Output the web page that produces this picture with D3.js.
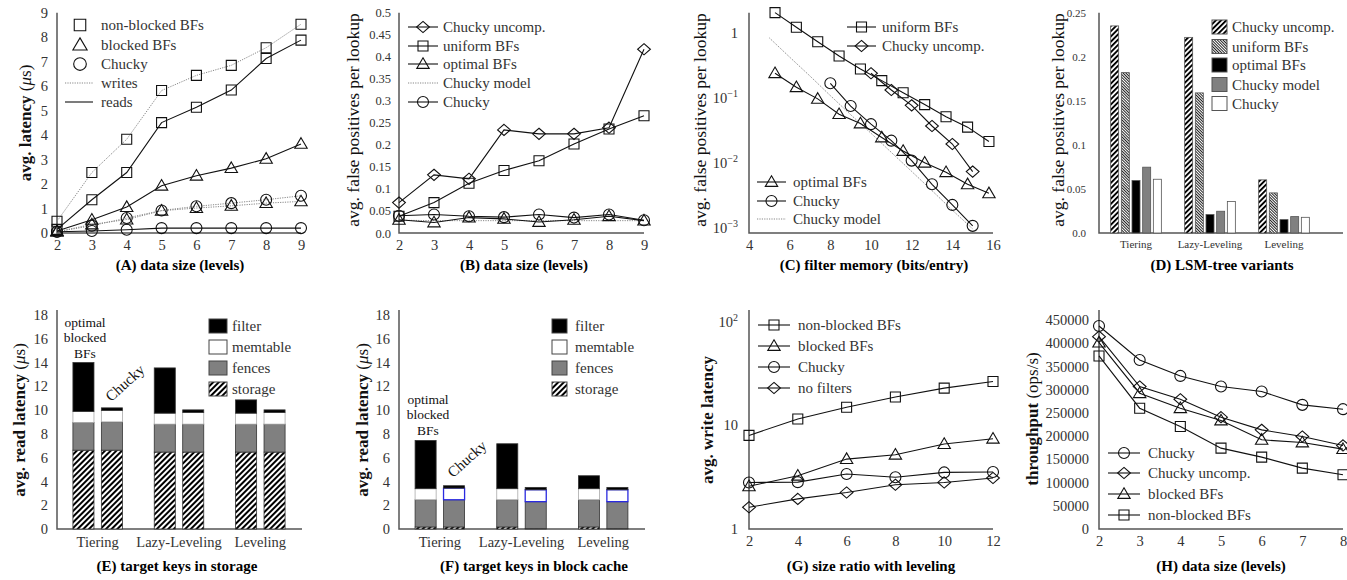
<!DOCTYPE html>
<html>
<head>
<meta charset="utf-8">
<script src="https://cdn.jsdelivr.net/npm/d3@7"></script>
<style>
  body { margin: 0; background: #fff; }
  svg text { font-family: "Liberation Serif", "DejaVu Serif", serif; }
</style>
</head>
<body>
<div id="chart"></div>
<script>
// ---- data ----
// (A) latency vs data size
const levelsA = [2, 3, 4, 5, 6, 7, 8, 9];
const aNonBlockedWrites = [0.48, 2.47, 3.83, 5.82, 6.44, 6.85, 7.57, 8.53];
const aNonBlockedReads = [0.15, 1.36, 2.47, 4.51, 5.14, 5.84, 7.13, 7.88];
const aBlockedWrites = [0.05, 0.35, 0.55, 0.91, 1.02, 1.11, 1.22, 1.29];
const aBlockedReads = [0.08, 0.54, 1.06, 1.93, 2.34, 2.65, 3.03, 3.64];
const aChuckyWrites = [0.05, 0.3, 0.61, 0.92, 1.09, 1.22, 1.36, 1.52];
const aChuckyReads = [0.05, 0.08, 0.13, 0.2, 0.2, 0.2, 0.2, 0.2];

// (B) false positives vs data size
const bUncomp = [0.069, 0.132, 0.123, 0.234, 0.225, 0.225, 0.239, 0.417];
const bUniform = [0.038, 0.069, 0.113, 0.142, 0.164, 0.202, 0.236, 0.266];
const bOptimal = [0.03, 0.024, 0.035, 0.032, 0.025, 0.03, 0.038, 0.028];
const bModel = [0.029, 0.028, 0.028, 0.028, 0.028, 0.028, 0.028, 0.028];
const bChucky = [0.039, 0.042, 0.038, 0.036, 0.042, 0.035, 0.042, 0.029];

// (C) false positives vs filter memory
const cBits = [5.28, 6.33, 7.38, 8.43, 9.48, 10.53, 11.58, 12.64, 13.69, 14.75, 15.8];
const cUniform = [2.08, 1.24, 0.74, 0.448, 0.283, 0.187, 0.122, 0.08, 0.052, 0.036, 0.0216];
const cOptimal = [0.243, 0.148, 0.098, 0.057, 0.041, 0.025, 0.0155, 0.0102, 0.0073, 0.00475, 0.00345];
const cUncompBits = [10, 11, 12, 13, 14, 15];
const cUncomp = [0.243, 0.134, 0.078, 0.0375, 0.0198, 0.00745];
const cChuckyBits = [8, 9, 10, 11, 12, 13, 14, 15];
const cChucky = [0.17, 0.076, 0.04, 0.0223, 0.011, 0.00475, 0.00229, 0.00109];
const cModelBits = [5, 6, 7, 8, 9, 10, 11, 12, 13, 14, 15];
const cModel = [0.85, 0.43, 0.22, 0.11, 0.056, 0.029, 0.0147, 0.0075, 0.0038, 0.0019, 0.00098];

// (D) LSM-tree variants
const variants = ['Tiering', 'Lazy-Leveling', 'Leveling'];
const dSeries = ['Chucky uncomp.', 'uniform BFs', 'optimal BFs', 'Chucky model', 'Chucky'];
const dUncomp = [0.235, 0.222, 0.0603];
const dUniform = [0.182, 0.159, 0.0455];
const dOptimal = [0.0596, 0.0209, 0.0152];
const dModel = [0.0747, 0.0247, 0.0186];
const dChucky = [0.061, 0.0357, 0.0178];

// (E)/(F) read latency breakdown, one entry per bar
const barVariant = ['Tiering', 'Tiering', 'Lazy-Leveling', 'Lazy-Leveling', 'Leveling', 'Leveling'];
const barConfig = ['optimal', 'Chucky', 'optimal', 'Chucky', 'optimal', 'Chucky'];
const components = ['storage', 'fences', 'memtable', 'filter'];
const eStorage = [6.63, 6.63, 6.47, 6.47, 6.47, 6.47];
const eFences = [2.33, 2.38, 2.35, 2.35, 2.35, 2.35];
const eMemtable = [0.92, 0.96, 0.92, 0.98, 0.92, 0.98];
const eFilter = [4.12, 0.22, 3.81, 0.22, 1.12, 0.22];
const fStorage = [0.17, 0.17, 0.17, 0.03, 0.17, 0.03];
const fFences = [2.29, 2.29, 2.29, 2.27, 2.29, 2.27];
const fMemtable = [0.93, 0.98, 0.93, 1.0, 0.93, 1.0];
const fFilter = [4.06, 0.2, 3.78, 0.2, 1.09, 0.2];

// (G) write latency vs size ratio
const ratios = [2, 4, 6, 8, 10, 12];
const gNonBlocked = [7.98, 11.5, 14.9, 18.7, 22.8, 26.4];
const gBlocked = [2.58, 3.26, 4.72, 5.2, 6.59, 7.41];
const gChucky = [2.81, 2.83, 3.39, 3.15, 3.51, 3.54];
const gNoFilters = [1.62, 1.95, 2.25, 2.67, 2.81, 3.1];

// (H) throughput vs data size
const levelsH = [2, 3, 4, 5, 6, 7, 8];
const hChucky = [437000, 364000, 329600, 306700, 296000, 267300, 258000];
const hUncomp = [414200, 306700, 279400, 240800, 213500, 199200, 179900];
const hBlocked = [401300, 292400, 260100, 233600, 192000, 186300, 172000];
const hNonBlocked = [372600, 260100, 220700, 174100, 154800, 131100, 116800];

// ---- drawing ----
const svg = d3.select('#chart').append('svg')
    .attr('width', 1347)
    .attr('height', 580);
const defs = svg.append('defs');

function stripes(id, size, bar, angle, color) {
    const p = defs.append('pattern')
        .attr('id', id)
        .attr('patternUnits', 'userSpaceOnUse')
        .attr('width', size)
        .attr('height', size)
        .attr('patternTransform', `rotate(${angle})`);
    p.append('rect').attr('width', size).attr('height', size).attr('fill', '#fff');
    p.append('rect').attr('width', bar).attr('height', size).attr('fill', color);
}
stripes('thick', 3.7, 1.9, 45, '#000');
stripes('fine', 2, 1, -45, '#222');
stripes('storage', 4, 2, 45, '#000');

const FONT = '"Liberation Serif", "DejaVu Serif", serif';
const TOP_Y = 233, BOT_Y = 529;

function frame(x0, x1, yTop, yBottom) {
    svg.append('path')
        .attr('d', `M${x0},${yTop}V${yBottom}H${x1}`)
        .attr('fill', 'none')
        .attr('stroke', '#555')
        .attr('stroke-width', 1.5);
}

function styleAxis(a, size) {
    a.select('.domain').remove();
    a.attr('font-family', FONT).attr('font-size', size || 14.5).attr('color', '#333');
}

function yAxis(x0, y, ticks, fmt, pad, size) {
    svg.append('g')
        .attr('transform', `translate(${x0},0)`)
        .call(d3.axisLeft(y).tickValues(ticks).tickFormat(fmt).tickSize(0).tickPadding(pad || 9))
        .call(a => styleAxis(a, size));
}

function logAxis(x0, y, ticks, pad) {
    svg.append('g')
        .attr('transform', `translate(${x0},0)`)
        .call(d3.axisLeft(y).tickValues(ticks).tickFormat('').tickSize(0).tickPadding(pad))
        .call(a => styleAxis(a))
        .selectAll('text')
        .each(function(d) {
            const e = Math.round(Math.log10(d));
            const t = d3.select(this);
            if (e === 0) { t.text('1'); return; }
            if (e === 1) { t.text('10'); return; }
            t.append('tspan').text('10');
            t.append('tspan').attr('dy', -6).attr('font-size', 10)
                .text(e < 0 ? '\u2212' + (-e) : String(e));
        });
}

function xAxis(yPos, x, ticks) {
    const ax = d3.axisBottom(x).tickSize(0).tickPadding(7);
    if (ticks) ax.tickValues(ticks).tickFormat(d3.format('d'));
    svg.append('g')
        .attr('transform', `translate(0,${yPos})`)
        .call(ax)
        .call(a => styleAxis(a));
}

function yLabel(cx, cy, parts, size) {
    const t = svg.append('text')
        .attr('transform', `translate(${cx},${cy}) rotate(-90)`)
        .attr('text-anchor', 'middle')
        .attr('dominant-baseline', 'central')
        .attr('font-size', size || 17)
        .attr('fill', '#111');
    parts.forEach(p => {
        t.append('tspan')
            .attr('font-weight', p.bold ? 'bold' : 'normal')
            .attr('font-style', p.italic ? 'italic' : 'normal')
            .text(p.text);
    });
}

function title(cx, cy, txt) {
    svg.append('text')
        .attr('x', cx).attr('y', cy)
        .attr('text-anchor', 'middle')
        .attr('dominant-baseline', 'central')
        .attr('font-size', 15)
        .attr('font-weight', 'bold')
        .attr('fill', '#000')
        .text(txt);
}

const shapePaths = {
    square: 'M-5,-5H5V5H-5Z',
    triangle: 'M0,-6.2L6.2,4.4H-6.2Z',
    diamond: 'M0,-5.6L6.4,0L0,5.6L-6.4,0Z'
};

function marker(cx, cy, shape, scale) {
    const k = scale || 1;
    if (shape === 'circle') {
        svg.append('circle').attr('cx', cx).attr('cy', cy).attr('r', 5.5 * k)
            .attr('fill', 'none').attr('stroke', '#111').attr('stroke-width', 1.1);
    } else {
        svg.append('path').attr('d', shapePaths[shape])
            .attr('transform', `translate(${cx},${cy}) scale(${k})`)
            .attr('fill', 'none').attr('stroke', '#111').attr('stroke-width', 1.1 / k);
    }
}

function series(x, y, xs, ys, shape, dotted) {
    const pts = xs.map((v, i) => [x(v), y(ys[i])]);
    svg.append('path')
        .attr('d', d3.line()(pts))
        .attr('fill', 'none')
        .attr('stroke', dotted ? '#888' : '#111')
        .attr('stroke-width', dotted ? 1 : 1.1)
        .attr('stroke-dasharray', dotted ? '1.2,1.2' : null);
    if (shape) pts.forEach(p => marker(p[0], p[1], shape));
}

function legendText(x, y, txt) {
    svg.append('text')
        .attr('x', x).attr('y', y)
        .attr('dominant-baseline', 'central')
        .attr('font-size', 15)
        .attr('fill', '#333')
        .text(txt);
}

// line + marker legend entry
function legendLine(x0, x1, y, shape, dotted, label, textX, scale) {
    if (x1 > x0) {
        svg.append('line')
            .attr('x1', x0).attr('x2', x1).attr('y1', y).attr('y2', y)
            .attr('stroke', dotted ? '#888' : '#111')
            .attr('stroke-width', 1.1)
            .attr('stroke-dasharray', dotted ? '1.2,1.2' : null);
    }
    if (shape) marker((x0 + x1) / 2, y, shape, scale);
    legendText(textX, y, label);
}

function legendSwatch(x, w, y, fill, stroke, label, textX) {
    svg.append('rect')
        .attr('x', x).attr('y', y - 7).attr('width', w).attr('height', 14)
        .attr('fill', fill).attr('stroke', stroke).attr('stroke-width', 1);
    legendText(textX, y, label);
}

// ===== (A) =====
{
    const x = d3.scaleLinear().domain([2, 9]).range([57, 301]);
    const y = d3.scaleLinear().domain([0, 9]).range([TOP_Y, 12.7]);
    frame(57, 301, 12.7, TOP_Y);
    yAxis(57, y, d3.range(0, 10), d3.format('d'));
    xAxis(TOP_Y, x, levelsA);
    series(x, y, levelsA, aNonBlockedWrites, 'square', true);
    series(x, y, levelsA, aBlockedWrites, 'triangle', true);
    series(x, y, levelsA, aChuckyWrites, 'circle', true);
    series(x, y, levelsA, aNonBlockedReads, 'square', false);
    series(x, y, levelsA, aBlockedReads, 'triangle', false);
    series(x, y, levelsA, aChuckyReads, 'circle', false);
    legendLine(80, 80, 25, 'square', false, 'non-blocked BFs', 101, 1.15);
    legendLine(80, 80, 45, 'triangle', false, 'blocked BFs', 101, 1.15);
    legendLine(80, 80, 64, 'circle', false, 'Chucky', 101, 1.15);
    legendLine(65, 93, 83, null, true, 'writes', 101);
    legendLine(65, 93, 102, null, false, 'reads', 101);
    yLabel(25, 123, [{ text: 'avg. latency ', bold: true }, { text: '(' }, { text: '\u03bc', italic: true }, { text: 's)' }]);
    title(180, 265, '(A) data size (levels)');
}

// ===== (B) =====
{
    const x = d3.scaleLinear().domain([2, 9]).range([399, 644]);
    const y = d3.scaleLinear().domain([0, 0.5]).range([TOP_Y, 12.7]);
    frame(399, 644, 12.7, TOP_Y);
    yAxis(399, y, d3.range(0, 11).map(i => i * 0.05), d => d === 0 ? '0.0' : String(+d.toFixed(2)), 8, 12.5);
    xAxis(TOP_Y, x, levelsA);
    series(x, y, levelsA, bModel, null, true);
    series(x, y, levelsA, bUncomp, 'diamond');
    series(x, y, levelsA, bUniform, 'square');
    series(x, y, levelsA, bOptimal, 'triangle');
    series(x, y, levelsA, bChucky, 'circle');
    legendLine(408, 438, 27, 'diamond', false, 'Chucky uncomp.', 443);
    legendLine(408, 438, 46, 'square', false, 'uniform BFs', 443);
    legendLine(408, 438, 64, 'triangle', false, 'optimal BFs', 443);
    legendLine(408, 438, 83, null, true, 'Chucky model', 443);
    legendLine(408, 438, 102, 'circle', false, 'Chucky', 443);
    yLabel(353, 120, [{ text: 'avg. false positives per lookup' }], 17.5);
    title(524, 265, '(B) data size (levels)');
}

// ===== (C) =====
{
    const x = d3.scaleLinear().domain([4, 16]).range([749, 993]);
    const y = d3.scaleLog().domain([1e-3, 1]).range([228.3, 33.3]);
    frame(749, 993, 12.7, TOP_Y);
    logAxis(749, y, [1, 0.1, 0.01, 0.001], 11);
    xAxis(TOP_Y, x, d3.range(4, 17, 2));
    series(x, y, cModelBits, cModel, null, true);
    series(x, y, cBits, cUniform, 'square');
    series(x, y, cUncompBits, cUncomp, 'diamond');
    series(x, y, cBits, cOptimal, 'triangle');
    series(x, y, cChuckyBits, cChucky, 'circle');
    legendLine(847, 876, 27, 'square', false, 'uniform BFs', 882);
    legendLine(847, 876, 46, 'diamond', false, 'Chucky uncomp.', 882);
    legendLine(757, 786, 182, 'triangle', false, 'optimal BFs', 793);
    legendLine(757, 786, 201, 'circle', false, 'Chucky', 793);
    legendLine(757, 786, 219, null, true, 'Chucky model', 793);
    yLabel(700, 120, [{ text: 'avg. false positives per lookup' }], 17.5);
    title(874, 265, '(C) filter memory (bits/entry)');
}

// ===== (D) =====
{
    const x = d3.scaleBand().domain(variants).range([1099, 1321]);
    const inner = d3.scaleBand().domain(dSeries).range([0, 50.7]).paddingInner(0.25);
    const y = d3.scaleLinear().domain([0, 0.25]).range([TOP_Y, 12.7]);
    const dValues = [dUncomp, dUniform, dOptimal, dModel, dChucky];
    const dFills = ['url(#thick)', 'url(#fine)', '#000', '#808080', '#fff'];
    frame(1099, 1343, 12.7, TOP_Y);
    yAxis(1099, y, d3.range(0, 6).map(i => i * 0.05), d => d === 0 ? '0.0' : String(+d.toFixed(2)), 13, 11);
    svg.append('g')
        .attr('transform', `translate(0,${TOP_Y})`)
        .call(d3.axisBottom(x).tickSize(0).tickPadding(7))
        .call(a => styleAxis(a, 11));
    dSeries.forEach((s, si) => {
        variants.forEach((v, vi) => {
            const val = dValues[si][vi];
            svg.append('rect')
                .attr('x', x(v) + x.bandwidth() / 2 - 25.35 + inner(s))
                .attr('y', y(val))
                .attr('width', inner.bandwidth())
                .attr('height', y(0) - y(val))
                .attr('fill', dFills[si])
                .attr('stroke', '#555')
                .attr('stroke-width', 0.8);
        });
        legendSwatch(1212, 15, [27, 46.5, 65, 84.5, 103.5][si], dFills[si], '#555', s, 1232);
    });
    yLabel(1058, 120, [{ text: 'avg. false positives per lookup' }], 17.5);
    title(1222, 265, '(D) LSM-tree variants');
}

// ===== (E) / (F) stacked bars =====
const compFill = { storage: 'url(#storage)', fences: '#808080', memtable: '#fff', filter: '#000' };
const compStroke = { storage: '#333', fences: '#333', memtable: '#aaa', filter: '#333' };
const legendOrder = ['filter', 'memtable', 'fences', 'storage'];

function stackedPanel(x0, x1, vals, swatchX, swatchW, textX, blueMem) {
    const rows = barVariant.map((v, i) => ({
        variant: v, config: barConfig[i],
        storage: vals[0][i], fences: vals[1][i], memtable: vals[2][i], filter: vals[3][i]
    }));
    const stacked = d3.stack().keys(components)(rows);
    const x = d3.scaleBand().domain(variants).range([x0, x1]);
    const inner = d3.scaleBand().domain(['optimal', 'Chucky']).range([0, 49.5]).paddingInner(0.26);
    const y = d3.scaleLinear().domain([0, 18]).range([BOT_Y, 315]);
    frame(x0, x1 + 1, 310, BOT_Y);
    yAxis(x0, y, d3.range(0, 19, 2), d3.format('d'));
    svg.append('g')
        .attr('transform', `translate(0,${BOT_Y})`)
        .call(d3.axisBottom(x).tickSize(0).tickPadding(8))
        .call(a => styleAxis(a));
    stacked.forEach(layer => {
        layer.forEach(seg => {
            const r = seg.data;
            const blue = blueMem && layer.key === 'memtable' && r.config === 'Chucky';
            svg.append('rect')
                .attr('x', x(r.variant) + x.bandwidth() / 2 - 24.75 + inner(r.config))
                .attr('y', y(seg[1]))
                .attr('width', inner.bandwidth())
                .attr('height', Math.max(0, y(seg[0]) - y(seg[1])))
                .attr('fill', compFill[layer.key])
                .attr('stroke', blue ? '#2a2ae0' : compStroke[layer.key])
                .attr('stroke-width', blue ? 1.3 : 0.8);
        });
    });
    legendOrder.forEach((k, i) => {
        legendSwatch(swatchX, swatchW, 326 + i * 21, compFill[k], '#444', k, textX);
    });
    return x;
}

function annotate(cx, yTop, chuckyX, chuckyY) {
    ['optimal', 'blocked', 'BFs'].forEach((t, i) => {
        svg.append('text')
            .attr('x', cx).attr('y', yTop + i * 15.5)
            .attr('text-anchor', 'middle')
            .attr('dominant-baseline', 'central')
            .attr('font-size', 13.5)
            .attr('fill', '#111')
            .text(t);
    });
    svg.append('text')
        .attr('transform', `translate(${chuckyX},${chuckyY}) rotate(-42)`)
        .attr('text-anchor', 'middle')
        .attr('dominant-baseline', 'central')
        .attr('font-size', 15)
        .attr('fill', '#111')
        .text('Chucky');
}

stackedPanel(57, 301, [eStorage, eFences, eMemtable, eFilter], 209, 18, 232, false);
annotate(85, 322, 125, 383);
yLabel(19, 420, [{ text: 'avg. read latency ', bold: true }, { text: '(' }, { text: '\u03bc', italic: true }, { text: 's)' }]);
title(177, 566, '(E) target keys in storage');

stackedPanel(399, 644, [fStorage, fFences, fMemtable, fFilter], 552, 15, 575, true);
annotate(428, 399, 467, 459);
yLabel(362, 420, [{ text: 'avg. read latency ', bold: true }, { text: '(' }, { text: '\u03bc', italic: true }, { text: 's)' }]);
title(534, 566, '(F) target keys in block cache');

// ===== (G) =====
{
    const x = d3.scaleLinear().domain([2, 12]).range([749, 993]);
    const y = d3.scaleLog().domain([1, 100]).range([BOT_Y, 321.5]);
    frame(749, 993, 310, BOT_Y);
    logAxis(749, y, [1, 10, 100], 11);
    xAxis(BOT_Y, x, ratios);
    series(x, y, ratios, gNonBlocked, 'square');
    series(x, y, ratios, gBlocked, 'triangle');
    series(x, y, ratios, gChucky, 'circle');
    series(x, y, ratios, gNoFilters, 'diamond');
    legendLine(758, 790, 325, 'square', false, 'non-blocked BFs', 798);
    legendLine(758, 790, 346, 'triangle', false, 'blocked BFs', 798);
    legendLine(758, 790, 367, 'circle', false, 'Chucky', 798);
    legendLine(758, 790, 388, 'diamond', false, 'no filters', 798);
    yLabel(707, 420, [{ text: 'avg. write latency', bold: true }]);
    title(871, 566, '(G) size ratio with leveling');
}

// ===== (H) =====
{
    const x = d3.scaleLinear().domain([2, 8]).range([1099, 1343]);
    const y = d3.scaleLinear().domain([0, 450000]).range([BOT_Y, 320]);
    frame(1099, 1343, 310, BOT_Y);
    yAxis(1099, y, d3.range(0, 450001, 50000), d3.format('d'), 10);
    xAxis(BOT_Y, x, levelsH);
    series(x, y, levelsH, hChucky, 'circle');
    series(x, y, levelsH, hUncomp, 'diamond');
    series(x, y, levelsH, hBlocked, 'triangle');
    series(x, y, levelsH, hNonBlocked, 'square');
    legendLine(1108, 1140, 453, 'circle', false, 'Chucky', 1148);
    legendLine(1108, 1140, 473, 'diamond', false, 'Chucky uncomp.', 1148);
    legendLine(1108, 1140, 494, 'triangle', false, 'blocked BFs', 1148);
    legendLine(1108, 1140, 515, 'square', false, 'non-blocked BFs', 1148);
    yLabel(1032, 419, [{ text: 'throughput ', bold: true }, { text: '(ops/s)' }]);
    title(1221, 566, '(H) data size (levels)');
}
</script>
</body>
</html>
